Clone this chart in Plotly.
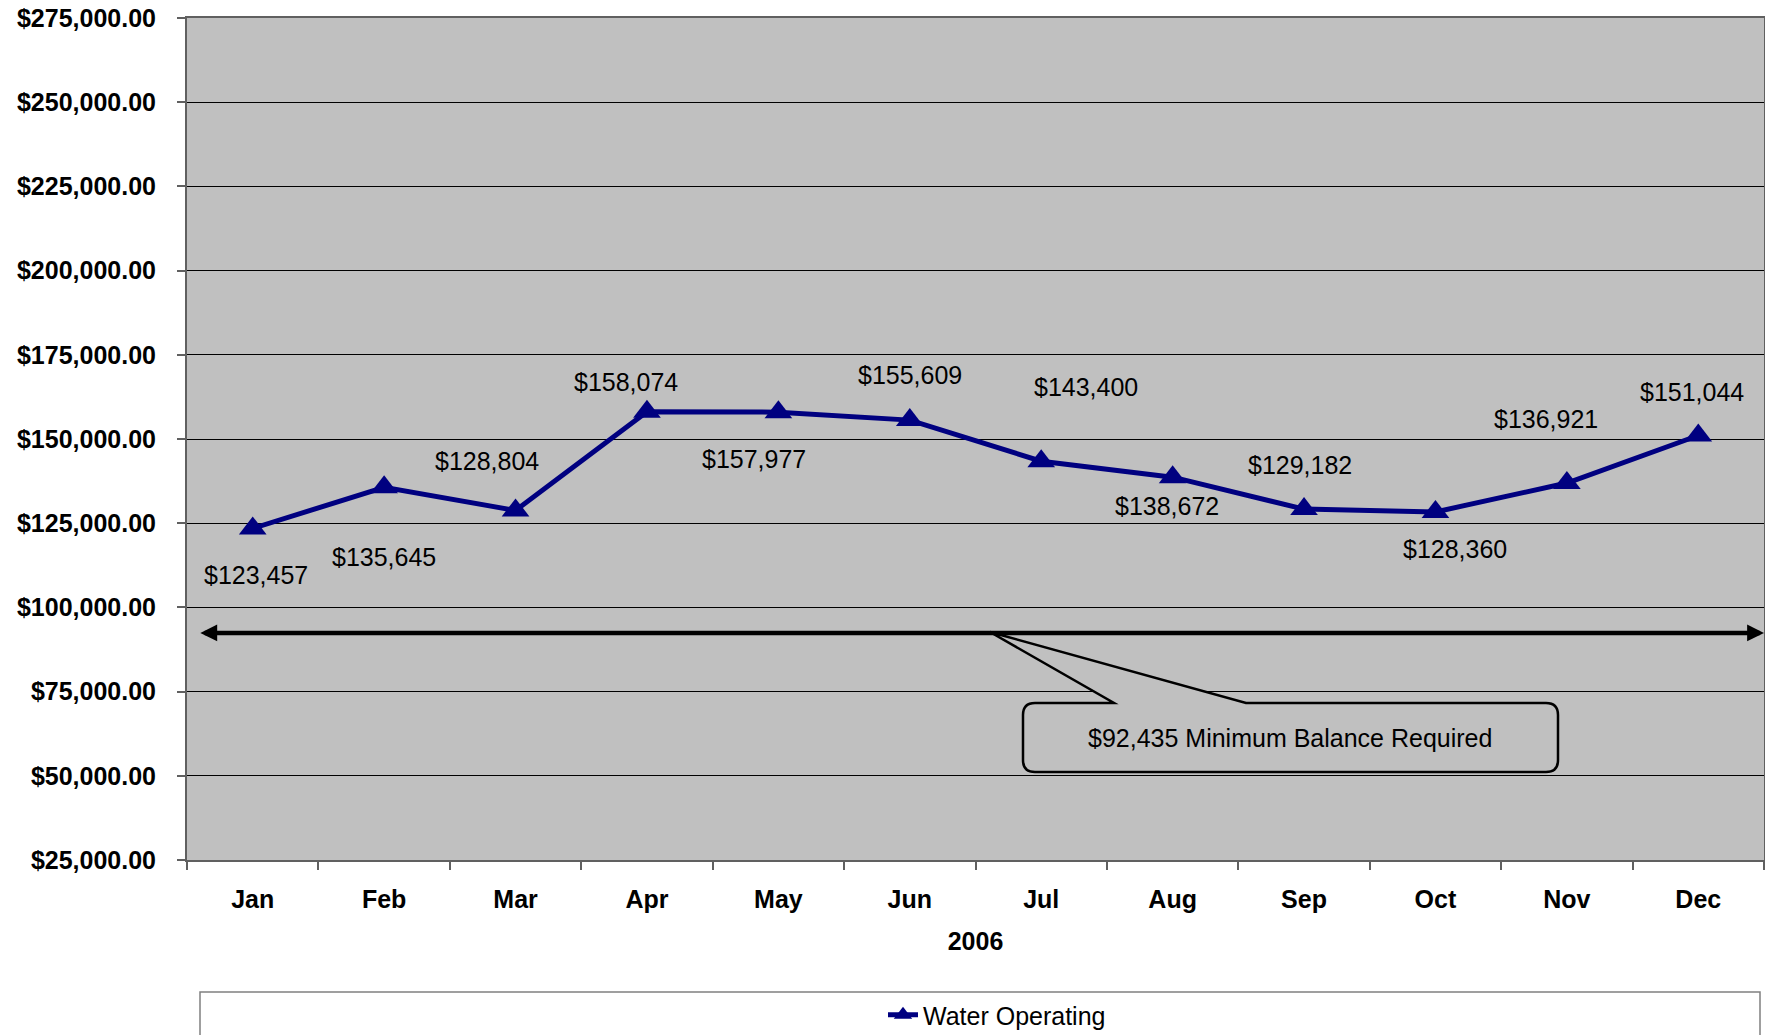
import plotly.graph_objects as go

months = ["Jan", "Feb", "Mar", "Apr", "May", "Jun", "Jul", "Aug", "Sep", "Oct", "Nov", "Dec"]
balance = [123457, 135645, 128804, 158074, 157977, 155609, 143400, 138672, 129182, 128360, 136921, 151044]
min_balance = 92435
series_name = "Water Operating"
x_title = "2006"
y_ticks = [25000, 50000, 75000, 100000, 125000, 150000, 175000, 200000, 225000, 250000, 275000]
y_tick_text = [f"${v:,.2f}" for v in y_ticks]

# label offsets (pixels; dx right, dy down) to mimic the manually placed labels
label_dx = [3, 0, -29, -21, -24, 0, 45, -6, -4, 20, -21, -6]
label_dy = [47, 70, -49, -30, 47, -45, -74, 29, -44, 37, -64, -43]

W, H = 1765, 1035
L, R, T, B = 187, 1764, 18, 860
FONT = "Liberation Sans, Arial, sans-serif"


def px(x):
    return (x - L) / (R - L)


def py(y):
    return (B - y) / (B - T)


fig = go.Figure()
fig.add_trace(go.Scatter(
    x=months, y=balance, name=series_name, mode="lines+markers",
    line=dict(color="#000080", width=5),
    marker=dict(symbol="triangle-up", size=24, color="#000080"),
    showlegend=True,
))

annotations = []
for m, v, dx, dy in zip(months, balance, label_dx, label_dy):
    annotations.append(dict(
        x=m, y=v, xref="x", yref="y", text=f"${v:,.0f}", showarrow=False,
        xshift=dx, yshift=-dy, font=dict(family=FONT, size=25, color="black"),
    ))

# double-headed minimum balance arrow
annotations.append(dict(
    x=11.5, y=min_balance, xref="x", yref="y",
    ax=-0.41, ay=min_balance, axref="x", ayref="y",
    text="", showarrow=True, arrowside="end+start",
    arrowhead=2, startarrowhead=2, arrowsize=0.75, startarrowsize=0.75,
    arrowwidth=4.5, arrowcolor="black", standoff=0, startstandoff=0,
))

# callout text
annotations.append(dict(
    x=px(1290), y=py(738), xref="paper", yref="paper",
    text=f"${min_balance:,.0f} Minimum Balance Required", showarrow=False,
    font=dict(family=FONT, size=25, color="black"),
    xanchor="center", yanchor="middle",
))

# callout shape (rounded box + wedge)
bl, br, bt, bb, r = 1023, 1558, 703, 772, 12
pts = [
    ("M", (bl + r, bt)), ("L", (1114, bt)), ("L", (990, 632)), ("L", (1246, bt)),
    ("L", (br - r, bt)), ("Q", (br, bt), (br, bt + r)), ("L", (br, bb - r)),
    ("Q", (br, bb), (br - r, bb)), ("L", (bl + r, bb)), ("Q", (bl, bb), (bl, bb - r)),
    ("L", (bl, bt + r)), ("Q", (bl, bt), (bl + r, bt)),
]
path = ""
for item in pts:
    cmd = item[0]
    coords = " ".join(f"{px(a):.5f},{py(b):.5f}" for a, b in item[1:])
    path += f"{cmd}{coords} "
path += "Z"

shapes = [
    dict(type="path", path=path, xref="paper", yref="paper",
         fillcolor="#C0C0C0", line=dict(color="black", width=2.5), layer="above"),
    dict(type="rect", xref="paper", yref="paper",
         x0=px(200), x1=px(1760), y0=py(992), y1=py(1045),
         fillcolor="white", line=dict(color="#808080", width=1.5), layer="below"),
]

fig.update_layout(
    width=W, height=H,
    margin=dict(l=L, r=W - R, t=T, b=H - B, autoexpand=False),
    paper_bgcolor="white", plot_bgcolor="#C0C0C0",
    font=dict(family=FONT, size=24, color="black"),
    annotations=annotations, shapes=shapes,
    legend=dict(orientation="h", x=px(997), y=py(1015), xanchor="center", yanchor="middle",
                bgcolor="rgba(0,0,0,0)", font=dict(family=FONT, size=25, color="black")),
    xaxis=dict(
        type="category", range=[-0.5, 11.5], tickson="boundaries",
        ticks="outside", ticklen=8, tickcolor="#606060", tickwidth=1.5,
        showline=True, linecolor="#606060", linewidth=2, mirror=True,
        showgrid=False, ticklabelstandoff=16, automargin=False,
        tickfont=dict(family=FONT, size=25, color="black", weight="bold"),
        title=dict(text=x_title, standoff=20,
                   font=dict(family=FONT, size=25, color="black", weight="bold")),
    ),
    yaxis=dict(
        range=[25000, 275000], tickvals=y_ticks, ticktext=y_tick_text,
        ticks="outside", ticklen=8, tickcolor="#606060", tickwidth=1.5,
        showline=True, linecolor="#606060", linewidth=2, mirror=True,
        showgrid=True, gridcolor="black", gridwidth=1, zeroline=False,
        ticklabelstandoff=16, automargin=False,
        tickfont=dict(family=FONT, size=25, color="black", weight="bold"),
    ),
)

fig.write_html(
    "out.html",
    config={"displayModeBar": False},
    post_script="document.body.style.margin='0';document.body.style.overflow='hidden';",
)
